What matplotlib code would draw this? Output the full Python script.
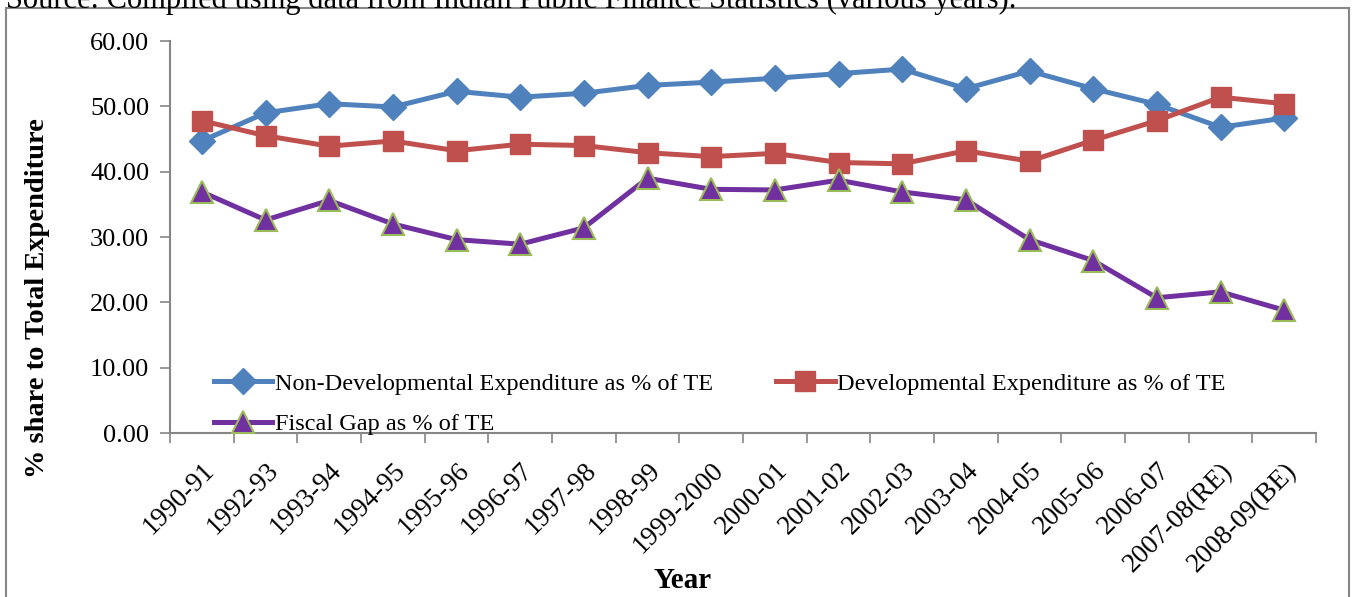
import matplotlib
matplotlib.use('Agg')
import matplotlib.pyplot as plt
import matplotlib.patches as mpatches
import numpy as np

plt.rcParams['font.family'] = ['Liberation Serif', 'DejaVu Serif']

years = ['1990-91', '1992-93', '1993-94', '1994-95', '1995-96', '1996-97', '1997-98',
         '1998-99', '1999-2000', '2000-01', '2001-02', '2002-03', '2003-04', '2004-05',
         '2005-06', '2006-07', '2007-08(RE)', '2008-09(BE)']
non_dev = [44.7, 49.0, 50.4, 49.9, 52.3, 51.4, 52.0, 53.2, 53.7, 54.3, 55.0, 55.7,
           52.7, 55.4, 52.7, 50.3, 46.8, 48.2]
dev = [47.8, 45.5, 43.9, 44.7, 43.2, 44.2, 44.0, 42.9, 42.3, 42.8, 41.4, 41.2,
       43.2, 41.6, 44.8, 47.8, 51.4, 50.4]
fiscal_gap = [36.9, 32.6, 35.6, 32.0, 29.6, 28.9, 31.4, 39.0, 37.3, 37.2, 38.7, 36.9,
              35.7, 29.6, 26.4, 20.7, 21.6, 18.8]

fig = plt.figure(figsize=(13.53, 5.97), dpi=100)
ax = fig.add_axes([170/1353, 1-433/597, 1146/1353, 392/597])

x = np.arange(len(years))
l1, = ax.plot(x, non_dev, color='#4F81BD', lw=3.6, marker='D', ms=13,
              mfc='#4F81BD', mec='#4F81BD', label='Non-Developmental Expenditure as % of TE')
l2, = ax.plot(x, dev, color='#C0504D', lw=3.6, marker='s', ms=15,
              mfc='#C0504D', mec='#C0504D', label='Developmental Expenditure as % of TE')
l3, = ax.plot(x, fiscal_gap, color='#7030A0', lw=3.6, marker='^', ms=16,
              mfc='#7030A0', mec='#9BBB59', mew=1.5, label='Fiscal Gap as % of TE')

ax.set_xlim(-0.5, len(years)-0.5)
ax.set_ylim(0, 60)
ax.set_yticks(np.arange(0, 61, 10))
ax.set_yticklabels(['%.2f' % v for v in np.arange(0, 61, 10)], fontsize=19)
ax.set_xticks(x)
ax.set_xticklabels(years, rotation=45, ha='right', rotation_mode='anchor', fontsize=19.5)
ax.set_xticks(np.arange(-0.5, len(years), 1), minor=True)
ax.tick_params(axis='x', which='major', length=0, pad=18)
ax.tick_params(axis='x', which='minor', length=7, color='#868686', width=1.2)
ax.tick_params(axis='y', length=7, color='#868686', width=1.2, pad=8)

for s in ['top', 'right']:
    ax.spines[s].set_visible(False)
for s in ['left', 'bottom']:
    ax.spines[s].set_color('#868686')
    ax.spines[s].set_linewidth(1.5)

ax.legend(handles=[l1, l3, l2], ncol=2, loc='lower left', bbox_to_anchor=(0.03, -0.03),
          frameon=False, fontsize=17.5, handlelength=2.4, handletextpad=0.1,
          labelspacing=0.75, columnspacing=2.6, borderaxespad=0)

fig.text(38/1353, 1-298/597, '% share to Total Expenditure', rotation=90,
         ha='center', va='center', fontsize=20.5, fontweight='bold')
fig.text(683/1353, 1-581/597, 'Year', ha='center', va='center', fontsize=21, fontweight='bold')
fig.text(6/1353, 1.0, 'Source: Compiled using data from Indian Public Finance Statistics (various years).',
         ha='left', va='center', fontsize=22)

border = mpatches.Rectangle((6/1353, -0.05), 1343/1353, 1.05-8/597, transform=fig.transFigure,
                            fill=False, edgecolor='#868686', lw=1.5)
fig.patches.append(border)

fig.savefig('out.png', dpi=100)
